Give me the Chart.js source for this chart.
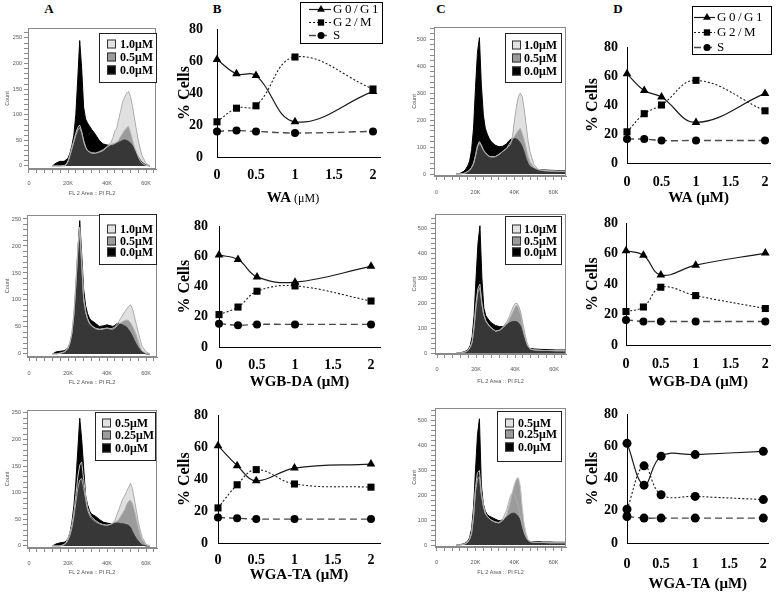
<!DOCTYPE html>
<html><head><meta charset="utf-8">
<script src="https://cdn.jsdelivr.net/npm/chart.js@4/dist/chart.umd.min.js"></script>
<style>
html,body{margin:0;padding:0;background:#fff;}
body{width:780px;height:592px;position:relative;overflow:hidden;}
canvas{position:absolute;}
.lbl{position:absolute;font:bold 13px "Liberation Serif","Times New Roman",serif;color:#000;line-height:14px;transform:translate(-50%,-50%);}
</style></head><body>
<div class="lbl" style="left:49px;top:9px">A</div>
<div class="lbl" style="left:217px;top:9px">B</div>
<div class="lbl" style="left:441px;top:9px">C</div>
<div class="lbl" style="left:618px;top:9px">D</div>
<script>
// ---------------- DATA ----------------
const concA = ['1.0μM','0.5μM','0.0μM'];
const concWGA = ['0.5μM','0.25μM','0.0μM'];
const flTitle = 'FL 2 Area :: PI FL2';
const countTitle = 'Count';
const histKTicks = [0,20,40,60];
const countTicksA = [0,50,100,150,200,250];
const countTicksC = [0,100,200,300,400,500];

// histogram channel positions (K)
const histXA = [12,14,16,18,19,20,21,22,23,24,25,26,27,28,29,30,31,32,34,36,38,40,42,43,44,45,46,47,48,49,50,51,52,53,54,55,56,57,58,60,62];
const histXC = [10,12,14,15,16,17,18,19,20,21,22,23,24,25,26,27,28,30,32,34,36,37,38,39,40,41,42,43,44,45,46,47,48,50,52,55,58,61,64,66];

// Column A
const a1_00 = [0,6,9,9,12,15,25,40,60,100,170,245,190,115,92,84,78,72,62,50,43,41,40,40,42,44,46,48,50,51,50,48,45,40,32,25,18,12,7,2,0];
const a1_05 = [0,0,0,1,3,10,22,36,50,64,75,80,68,50,38,30,28,26,25,27,30,37,42,44,45,47,51,58,64,70,74,78,66,52,38,28,18,10,5,1,0];
const a1_10 = [0,0,0,0,2,8,20,33,47,60,70,75,65,48,36,30,27,25,25,28,32,38,46,55,68,74,92,108,125,134,142,146,136,118,95,72,50,34,20,5,0];
const a2_00 = [0,4,5,6,8,12,20,35,65,120,190,247,185,120,90,75,66,62,57,51,52,54,52,51,53,56,57,55,54,52,50,45,40,33,25,18,12,7,3,0,0];
const a2_05 = [0,0,2,4,7,12,22,40,75,130,195,235,170,105,80,66,58,53,48,46,47,48,46,46,48,52,56,58,60,62,63,62,58,52,44,35,24,13,6,1,0];
const a2_10 = [0,0,1,3,6,10,20,38,72,125,190,230,165,100,78,64,56,52,47,45,46,48,47,48,50,55,60,66,72,78,83,88,91,84,70,55,40,26,14,4,0];
const a3_00 = [0,4,6,7,9,14,25,45,75,120,180,240,200,148,95,78,66,60,56,50,45,43,42,42,43,43,43,42,42,41,40,39,35,27,20,14,9,5,2,0,0];
const a3_025 = [0,0,0,3,7,14,25,40,62,95,130,152,158,125,95,72,62,55,48,43,40,39,41,43,45,47,50,56,62,68,78,84,86,80,68,52,36,22,12,2,0];
const a3_05 = [0,0,0,2,5,11,20,34,55,82,108,124,127,110,88,68,58,52,46,42,40,39,41,43,48,58,68,78,88,94,102,110,118,108,88,67,45,30,16,3,0];

// Column C
const c1_00 = [0,2,10,18,30,48,90,170,320,450,505,330,220,170,148,132,120,107,101,103,112,122,128,131,132,130,124,115,100,80,55,38,27,19,16,15,14,13,12,12];
const c1_05 = [0,0,2,5,10,15,25,40,70,105,120,108,90,80,72,66,64,64,72,84,95,108,118,128,140,152,162,170,150,126,95,65,45,25,16,13,12,11,10,10];
const c1_10 = [0,0,2,4,9,14,23,38,66,100,114,104,88,78,70,65,63,64,72,84,95,102,110,140,200,250,287,300,285,240,180,120,80,35,18,12,11,10,10,10];
const c2_00 = [0,1,5,9,14,30,65,150,300,440,510,300,180,150,138,128,120,110,106,106,115,120,124,126,126,125,118,105,75,50,30,22,18,16,15,14,13,12,12,12];
const c2_05 = [0,0,3,6,12,25,45,110,200,260,276,200,155,130,118,108,100,88,90,102,120,135,150,168,185,192,175,150,105,70,38,22,15,12,11,10,10,9,9,9];
const c2_10 = [0,0,3,6,11,22,42,100,185,245,262,195,150,128,116,106,98,88,92,106,128,145,165,185,198,200,185,160,118,80,45,25,16,12,11,10,10,9,9,9];
const c3_00 = [0,1,5,9,15,30,65,150,300,440,505,240,165,135,122,116,112,104,97,100,112,118,124,127,127,122,112,98,65,42,22,16,14,13,13,12,12,11,11,11];
const c3_025 = [0,0,3,6,12,25,50,120,230,290,298,210,160,128,115,108,100,92,88,98,120,150,180,215,245,265,270,235,150,80,45,22,14,11,10,10,9,9,9,9];
const c3_05 = [0,0,3,6,11,23,46,110,215,265,272,200,155,126,114,106,99,92,90,105,140,170,198,208,200,180,150,112,75,48,30,18,13,11,10,10,9,9,9,9];

// Cell-cycle line charts
const doseX = [0,0.25,0.5,1,2];
const phaseNames = ['G0/G1','G2/M','S'];
const pctTicks = [0,20,40,60,80];
const doseTicks = [0,0.5,1,1.5,2];
const yTitle = '% Cells';
const unitTxt = '(μM)';
const drugWA = 'WA', drugWGB = 'WGB-DA', drugWGA = 'WGA-TA';

const b1_g1 = [61,52,51,22,41];
const b1_g2 = [22,30.5,32,62.5,42.5];
const b1_s  = [16,16.5,16,15,16];
const b2_g1 = [61,58,46.5,43,53.5];
const b2_g2 = [21.5,26.5,37,40.5,30.5];
const b2_s  = [15.5,14.5,15,15,15];
const b3_g1 = [61,48.5,39,47,49.5];
const b3_g2 = [22,36.5,46,37,35];
const b3_s  = [16,15.5,15,15,15];
const d1_g1 = [61.5,50,45.5,28,48];
const d1_g2 = [21.5,34,40,57,36];
const d1_s  = [16.5,16.5,15.5,15.5,15.5];
const d2_g1 = [62,59,46,52.5,60.5];
const d2_g2 = [22,25,38,32.5,24];
const d2_s  = [16.5,15.5,15.5,15.5,15.5];
const d3_g1 = [62,36,54,55,57];
const d3_g2 = [21,48,30,29,27];
const d3_s  = [16.5,15.5,15.5,15.5,15.5];

// ---------------- STYLE / HELPERS ----------------
const serif='"Liberation Serif","Times New Roman",serif';
const sans='"Liberation Sans",Arial,sans-serif';
const histFill=['rgba(152,152,152,0.3)','rgba(31,31,31,0.44)','#000'];
const histLine=['#ababab','#c4c4c4','#000'];
const histSwatch=['#e2e2e2','#9c9c9c','#000'];
const lineStyles=[
  {color:'#1a1a1a',width:1.2,dash:[],point:'triangle',r:5},
  {color:'#1a1a1a',width:1.1,dash:[2,2],point:'rect',r:5},
  {color:'#4a4a4a',width:1.4,dash:[7,4],point:'circle',r:4}
];
const ROW=[[0,207],[207,190],[397,195]];
const COL={A:[0,165],B:[165,225],C:[390,185],D:[575,205]};
function rect(c,r){return [COL[c][0],ROW[r][0],COL[c][1],ROW[r][1]];}
function mkCanvas(r){
  const c=document.createElement('canvas');
  c.width=r[2];c.height=r[3];
  c.style.left=r[0]+'px';c.style.top=r[1]+'px';c.style.width=r[2]+'px';c.style.height=r[3]+'px';
  document.body.appendChild(c);return c;
}
function drawMarker(ctx,style,r,x,y){
  ctx.beginPath();
  if(style==='triangle'){ctx.moveTo(x,y-r);ctx.lineTo(x+r*0.866,y+r*0.5);ctx.lineTo(x-r*0.866,y+r*0.5);ctx.closePath();}
  else if(style==='rect'){const s=r*Math.SQRT1_2;ctx.rect(x-s,y-s,2*s,2*s);}
  else{ctx.arc(x,y,r,0,Math.PI*2);}
  ctx.fill();
}
function framePlugin(color){
  return {id:'frame',afterDatasetsDraw(chart){
    const a=chart.chartArea,ctx=chart.ctx;ctx.save();ctx.strokeStyle=color;ctx.lineWidth=1;
    ctx.strokeRect(Math.round(a.left)+0.5,Math.round(a.top)+0.5,Math.round(a.right-a.left)-1,Math.round(a.bottom-a.top)-1);
    ctx.restore();}};
}
function histLegendPlugin(L,r){
  return {id:'hleg',afterDraw(chart){
    const ctx=chart.ctx;ctx.save();ctx.translate(-r[0],-r[1]);
    const [bx,by,bw,bh]=L.box;
    ctx.fillStyle='#fff';ctx.fillRect(bx,by,bw,bh);
    ctx.strokeStyle='#222';ctx.lineWidth=1;ctx.strokeRect(bx+0.5,by+0.5,bw,bh);
    ctx.font='bold 12px '+serif;ctx.textBaseline='middle';ctx.textAlign='left';
    chart.data.datasets.forEach((ds,i)=>{
      const y=L.rows[i];
      ctx.fillStyle=histSwatch[i];ctx.fillRect(L.swX,y-4.5,9,9);
      ctx.strokeStyle='#333';ctx.strokeRect(L.swX+0.5,y-4,8,8);
      ctx.fillStyle='#000';ctx.fillText(ds.label,L.textX,y+0.5);
    });
    ctx.restore();}};
}
function lineLegendPlugin(L,r){
  return {id:'lleg',afterDraw(chart){
    const ctx=chart.ctx;ctx.save();ctx.translate(-r[0],-r[1]);
    const [bx,by,bw,bh]=L.box;
    ctx.fillStyle='#fff';ctx.fillRect(bx,by,bw,bh);
    ctx.strokeStyle='#000';ctx.lineWidth=1;ctx.strokeRect(bx+0.5,by+0.5,bw,bh);
    ctx.font='13px '+serif;ctx.textBaseline='middle';ctx.textAlign='left';
    try{ctx.letterSpacing='2.5px';}catch(e){}
    chart.data.datasets.forEach((ds,i)=>{
      const y=L.rows[i],st=lineStyles[i];
      ctx.strokeStyle=st.color;ctx.lineWidth=st.width;ctx.setLineDash(st.dash);
      ctx.beginPath();ctx.moveTo(L.x0,y+0.5);ctx.lineTo(L.x1,y+0.5);ctx.stroke();ctx.setLineDash([]);
      ctx.fillStyle='#000';drawMarker(ctx,st.point,st.r-0.5,L.mx,y+0.5);
      ctx.fillText(ds.label,L.textX,y+0.5);
    });
    ctx.restore();}};
}
function mixTitlePlugin(M,r){
  return {id:'mix',afterDraw(chart){
    const ctx=chart.ctx;ctx.save();ctx.textBaseline='alphabetic';ctx.fillStyle='#000';ctx.textAlign='left';
    const w=M.parts.map(p=>{ctx.font=p.font;return ctx.measureText(p.text).width;});
    let x=M.x-r[0]-w.reduce((a,b)=>a+b,0)/2;
    M.parts.forEach((p,i)=>{ctx.font=p.font;ctx.fillText(p.text,x,M.y-r[1]);x+=w[i];});
    ctx.restore();}};
}

function histChart(p){
  const r=p.rect,[L,T,R,B]=p.area;
  const cv=mkCanvas(r);
  const ds=p.series.map((vals,i)=>({
    label:p.labels[i],data:p.xs.map((x,j)=>({x:x,y:vals[j]})),
    fill:'origin',backgroundColor:histFill[i],borderColor:histLine[i],borderWidth:1,pointRadius:0,tension:0
  }));
  const grid={display:true,drawOnChartArea:false,drawTicks:true,tickLength:4,color:'#8a8a8a',lineWidth:1};
  const tfont={family:sans,size:5.5};
  new Chart(cv,{type:'line',data:{datasets:ds},
    plugins:[framePlugin('#8a8a8a'),histLegendPlugin(p.legend,r)],
    options:{responsive:false,animation:false,devicePixelRatio:1,events:[],
      layout:{padding:{left:0,top:T-r[1],right:r[0]+r[2]-R,bottom:0}},
      plugins:{legend:{display:false},tooltip:{enabled:false}},
      scales:{
        x:{type:'linear',min:p.xmin,max:p.xmax,
          afterFit(s){s.height=r[1]+r[3]-B;},
          afterBuildTicks(s){const t=[];for(let v=0;v<=p.xmax;v+=4)t.push({value:v});s.ticks=t;},
          grid:grid,border:{display:true,color:'#8a8a8a'},
          ticks:{autoSkip:false,maxRotation:0,padding:p.xPad,font:tfont,color:'#555',
            callback:v=>histKTicks.includes(v)?(v===0?'0':v+'K'):''},
          title:{display:!!p.xTitle,text:p.xTitle||'',font:tfont,color:'#555',padding:{top:0,bottom:p.xTitlePad||0}}},
        y:{type:'linear',min:p.ymin,max:p.ymax,
          afterFit(s){s.width=L-r[0];},
          afterBuildTicks(s){const t=[];for(let v=0;v<=p.ymax;v+=p.yMinor)t.push({value:v});s.ticks=t;},
          grid:grid,border:{display:true,color:'#8a8a8a'},
          ticks:{autoSkip:false,padding:p.yPad,font:tfont,color:'#555',
            callback:v=>p.yMajors.includes(v)?String(v):''},
          title:{display:true,text:countTitle,font:{family:sans,size:5.5},color:'#555',padding:{top:p.yTitleCx-r[0]-3.3,bottom:0}}}
      }}});
}

function lineChart(p){
  const r=p.rect,[L,T,R,B]=p.area;
  const cv=mkCanvas(r);
  const ds=p.series.map((vals,i)=>{
    const st=lineStyles[i];
    const pt=p.points?p.points[i]:st.point, pr=p.points?4.5:st.r;
    return {label:phaseNames[i],data:doseX.map((x,j)=>({x:x,y:vals[j]})),
      borderColor:st.color,borderWidth:st.width,borderDash:st.dash,fill:false,tension:0.4,clip:false,
      pointStyle:pt,pointRadius:pr,pointBackgroundColor:'#000',pointBorderColor:'#000',pointBorderWidth:0};
  });
  const plugins=[];
  if(p.legend)plugins.push(lineLegendPlugin(p.legend,r));
  if(p.mix)plugins.push(mixTitlePlugin(p.mix,r));
  const tf={family:serif,size:14,weight:'bold'};
  new Chart(cv,{type:'line',data:{datasets:ds},plugins:plugins,
    options:{responsive:false,animation:false,devicePixelRatio:1,events:[],
      layout:{padding:{left:0,top:T-r[1],right:r[0]+r[2]-R,bottom:0}},
      plugins:{legend:{display:false},tooltip:{enabled:false}},
      scales:{
        x:{type:'linear',min:0,max:p.xmax,
          afterFit(s){s.height=r[1]+r[3]-B;},
          afterBuildTicks(s){s.ticks=doseTicks.map(v=>({value:v}));},
          grid:{display:false,drawTicks:false},border:{display:true,color:'#000',width:1},
          ticks:{autoSkip:false,maxRotation:0,padding:p.xPad,font:tf,color:'#000',callback:v=>String(v)},
          title:{display:!!p.xTitle,text:p.xTitle||'',font:{family:serif,size:15,weight:'bold'},color:'#000',
            padding:{top:0,bottom:r[1]+r[3]-(p.xTitleCy||0)-9}}},
        y:{type:'linear',min:0,max:80,
          afterFit(s){s.width=L-r[0];},
          afterBuildTicks(s){s.ticks=pctTicks.map(v=>({value:v}));},
          grid:{display:false,drawTicks:false},border:{display:true,color:'#000',width:1},
          ticks:{autoSkip:false,padding:p.yPad,font:tf,color:'#000',callback:v=>String(v)},
          title:{display:true,text:yTitle,font:{family:serif,size:16,weight:'bold'},color:'#000',
            padding:{top:p.yTitleCx-r[0]-9.6,bottom:0}}}
      }}});
}

// ---------------- HISTOGRAMS ----------------
histChart({rect:rect('A',0),area:[28,28,156,169],xs:histXA,series:[a1_10,a1_05,a1_00],labels:concA,
  xmin:-0.5,xmax:65.1,ymin:-5.9,ymax:269.5,yMajors:countTicksA,yMinor:10,xPad:6.7,yPad:2,
  xTitle:flTitle,xTitlePad:10.4,yTitleCx:7.3,legend:{box:[99,33,57,49],rows:[44,57,70],swX:107,textX:120}});
histChart({rect:rect('A',1),area:[27,215,157,357],xs:histXA,series:[a2_10,a2_05,a2_00],labels:concA,
  xmin:-1.03,xmax:65.6,ymin:-5.6,ymax:257.4,yMajors:countTicksA,yMinor:10,xPad:8.7,yPad:2,
  xTitle:flTitle,xTitlePad:11,yTitleCx:7.3,legend:{box:[99,214,57,50],rows:[229,241,252],swX:107,textX:120}});
histChart({rect:rect('A',2),area:[27,410,157,548],xs:histXA,series:[a3_05,a3_025,a3_00],labels:concWGA,
  xmin:-1.03,xmax:65.6,ymin:-3.8,ymax:255.6,yMajors:countTicksA,yMinor:10,xPad:7.7,yPad:2,
  xTitle:flTitle,xTitlePad:16,yTitleCx:7.3,legend:{box:[95,412,60,48],rows:[423,435,448],swX:102,textX:115}});
histChart({rect:rect('C',0),area:[434,27,566,176],xs:histXC,series:[c1_10,c1_05,c1_00],labels:concA,
  xmin:-1.28,xmax:66.4,ymin:-7.4,ymax:544.5,yMajors:countTicksC,yMinor:20,xPad:8.7,yPad:4,
  xTitle:null,yTitleCx:414,legend:{box:[505,33,56,49],rows:[45,58,71],swX:512,textX:524}});
histChart({rect:rect('C',1),area:[435,214,566,354],xs:histXC,series:[c2_10,c2_05,c2_00],labels:concA,
  xmin:-1.03,xmax:66.1,ymin:-4,ymax:556,yMajors:countTicksC,yMinor:20,xPad:8,yPad:4,
  xTitle:flTitle,xTitlePad:12,yTitleCx:414,legend:{box:[505,216,56,48],rows:[229,241,252],swX:512,textX:524}});
histChart({rect:rect('C',2),area:[435,408,566,547],xs:histXC,series:[c3_05,c3_025,c3_00],labels:concWGA,
  xmin:-0.77,xmax:66.4,ymin:-8,ymax:548,yMajors:countTicksC,yMinor:20,xPad:7.7,yPad:4,
  xTitle:flTitle,xTitlePad:16,yTitleCx:414,legend:{box:[497,411,64,50],rows:[423,434,447],swX:505,textX:518}});

// ---------------- LINE CHARTS ----------------
lineChart({rect:rect('B',0),area:[217,29,380,157],xmax:2.09,series:[b1_g1,b1_g2,b1_s],yPad:14,xPad:10,yTitleCx:185,
  xTitle:null,mix:{x:293,y:202,parts:[{text:drugWA,font:'bold 15px '+serif},{text:' '+unitTxt,font:'12px '+serif}]},
  legend:{box:[300,2,82,41],rows:[9,22,35],x0:309,x1:331,mx:321,textX:333}});
lineChart({rect:rect('B',1),area:[219,217,380,347],xmax:2.118,series:[b2_g1,b2_g2,b2_s],yPad:11,xPad:9.6,yTitleCx:185,
  xTitle:drugWGB+' '+unitTxt,xTitleCy:382});
lineChart({rect:rect('B',2),area:[218,412,380,543],xmax:2.118,series:[b3_g1,b3_g2,b3_s],yPad:10,xPad:9,yTitleCx:185,
  xTitle:drugWGA+' '+unitTxt,xTitleCy:575});
lineChart({rect:rect('D',0),area:[627,47,779,163],xmax:2.075,series:[d1_g1,d1_g2,d1_s],yPad:9,xPad:11.3,yTitleCx:593,
  xTitle:drugWA+' '+unitTxt,xTitleCy:198,
  legend:{box:[692,6,79,48],rows:[17,32,47],x0:694,x1:715,mx:707,textX:717}});
lineChart({rect:rect('D',1),area:[626,218,779,345],xmax:2.07,series:[d2_g1,d2_g2,d2_s],yPad:8,xPad:11,yTitleCx:593,
  xTitle:drugWGB+' '+unitTxt,xTitleCy:382});
lineChart({rect:rect('D',2),area:[627,413,779,543],xmax:2.075,series:[d3_g1,d3_g2,d3_s],yPad:9,xPad:13,yTitleCx:593,
  xTitle:drugWGA+' '+unitTxt,xTitleCy:584,points:['circle','circle','circle']});
</script>
</body></html>
